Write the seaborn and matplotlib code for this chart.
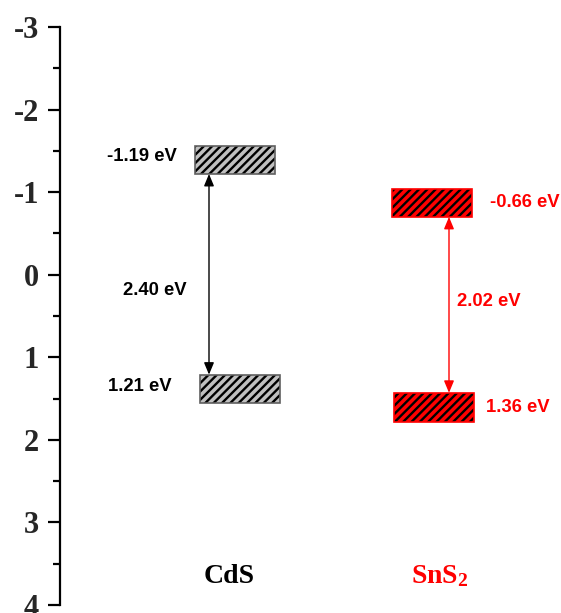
import matplotlib
matplotlib.use("Agg")
import matplotlib.pyplot as plt
import seaborn as sns

# band edges (eV)
materials = ["CdS", "SnS$_{2}$"]
cb_top = [-1.56, -1.04]
cb_bottom = [-1.22, -0.70]
vb_top = [1.21, 1.43]
vb_bottom = [1.55, 1.78]
cb_labels = ["-1.19 eV", "-0.66 eV"]
vb_labels = ["1.21 eV", "1.36 eV"]
gap_labels = ["2.40 eV", "2.02 eV"]
y_ticks = [-3, -2, -1, 0, 1, 2, 3, 4]

# layout (x in axes units, 0..500)
cb_x = [135, 332]
vb_x = [140, 334]
box_w = 80
arrow_x = [149, 389]
colors = ["#c0c0c0", "#ff0000"]
edges = ["#606060", "#ff0000"]
text_colors = ["black", "#ff0000"]

sns.set_style("ticks")
plt.rcParams["axes.unicode_minus"] = False
plt.rcParams["hatch.linewidth"] = 1.7
plt.rcParams["mathtext.fontset"] = "custom"
plt.rcParams["mathtext.rm"] = "Liberation Serif:bold"
plt.rcParams["mathtext.bf"] = "Liberation Serif:bold"
plt.rcParams["mathtext.it"] = "Liberation Serif:bold"

fig = plt.figure(figsize=(5.61, 6.13), dpi=100)
ax = fig.add_axes([60 / 561, 8 / 613, 500 / 561, 578 / 613])

for i in range(2):
    for x, top, bot in [(cb_x[i], cb_top[i], cb_bottom[i]), (vb_x[i], vb_top[i], vb_bottom[i])]:
        ax.bar(x, bot - top, bottom=top, width=box_w, align="edge", color=colors[i],
               edgecolor="black", hatch="////", linewidth=0, zorder=2)
        ax.bar(x, bot - top, bottom=top, width=box_w, align="edge", fill=False,
               edgecolor=edges[i], linewidth=1.2, zorder=3)
    ax.annotate("", xy=(arrow_x[i], cb_bottom[i]), xytext=(arrow_x[i], vb_top[i]),
                arrowprops=dict(arrowstyle="<|-|>,head_length=0.6,head_width=0.25",
                                color=text_colors[i], lw=1, shrinkA=0, shrinkB=0,
                                mutation_scale=12))

sans = dict(family="Liberation Sans", weight="bold", fontsize=13.3, va="center")
# CdS labels
ax.text(117, (cb_top[0] + cb_bottom[0]) / 2 - 0.04, cb_labels[0], ha="right", color="black", **sans)
ax.text(112, (vb_top[0] + vb_bottom[0]) / 2 - 0.03, vb_labels[0], ha="right", color="black", **sans)
ax.text(127, 0.19, gap_labels[0], ha="right", color="black", **sans)
# SnS2 labels
ax.text(430, (cb_top[1] + cb_bottom[1]) / 2, cb_labels[1], ha="left", color="#ff0000", **sans)
ax.text(426, (vb_top[1] + vb_bottom[1]) / 2, vb_labels[1], ha="left", color="#ff0000", **sans)
ax.text(397, 0.33, gap_labels[1], ha="left", color="#ff0000", **sans)

for i, name in enumerate(materials):
    ax.text([169, 380][i], 3.65, name, ha="center", va="center", color=text_colors[i],
            family="Liberation Serif", weight="bold", fontsize=20)

ax.set_xlim(0, 500)
ax.set_ylim(4, -3)
ax.set_yticks(y_ticks)
ax.set_yticks([-2.5, -1.5, -0.5, 0.5, 1.5, 2.5, 3.5], minor=True)
ax.set_xticks([])
for s in ["top", "right", "bottom"]:
    ax.spines[s].set_visible(False)
ax.spines["left"].set_linewidth(1.6)
ax.spines["left"].set_color("black")
ax.tick_params(axis="y", which="major", length=9, width=1.6, pad=6, color="black")
ax.tick_params(axis="y", which="minor", length=5, width=1.6, color="black")
for lab in ax.get_yticklabels():
    lab.set_fontfamily("Liberation Serif")
    lab.set_fontweight("bold")
    lab.set_fontsize(22)
ax.set_facecolor("white")
ax.patch.set_alpha(0)

fig.savefig("out.png", dpi=100)
